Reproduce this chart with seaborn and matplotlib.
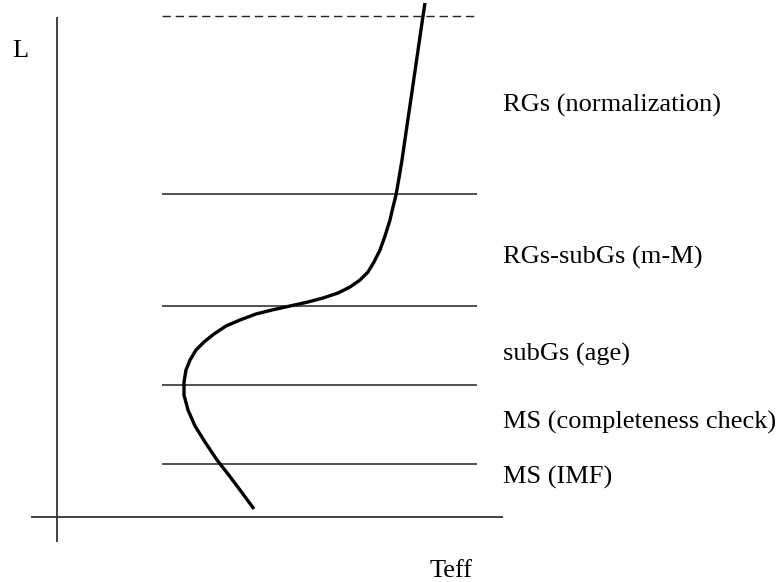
import matplotlib
matplotlib.use("Agg")
import matplotlib.pyplot as plt
import seaborn as sns
import pandas as pd

# Schematic HR diagram: coordinates in the drawing's own units (0..778 x 0..582, y downward)
curve_teff = [254, 240, 228, 217, 205, 195, 188, 184, 184, 186, 190, 196, 204, 214,
              226, 240, 256, 272, 290, 308, 323, 338, 350, 360, 368, 374, 380, 385,
              390, 393, 396, 399, 402, 406.8, 411.8, 416.6, 423, 425]
curve_L = [509, 490, 474, 460, 442, 426, 410, 395, 382, 370, 360, 350, 342, 334,
           326, 320, 314, 310, 306, 302, 298, 293, 287, 280, 272, 262, 250, 236,
           220, 207, 195, 178, 160, 127, 93, 60, 16, 3]

level_L = [194, 306, 385, 464]          # boundaries between regions
level_teff_range = [162, 477]
top_level_L = 16                        # dashed upper limit

region_labels = ["RGs (normalization)", "RGs-subGs (m-M)", "subGs (age)",
                 "MS (completeness check)", "MS (IMF)"]
region_label_L = [112, 264, 361, 429, 484]   # baselines
label_teff = 503

axis_x = 57
axis_y = 517

sns.set_theme(style="white")
plt.rcParams['font.family'] = ['Liberation Serif', 'DejaVu Serif']

fig = plt.figure(figsize=(7.78, 5.82), dpi=100)
ax = fig.add_axes([0, 0, 1, 1])

# axes of the schematic
ax.plot([axis_x, axis_x], [17, 542], color="#333333", lw=1.3, solid_capstyle="butt")
ax.plot([31, 503], [axis_y, axis_y], color="#333333", lw=1.3, solid_capstyle="butt")

# region boundaries
ax.hlines(level_L, level_teff_range[0], level_teff_range[1], color="#222222", lw=1.1)
ax.hlines([top_level_L], level_teff_range[0], level_teff_range[1], color="#222222",
          lw=1.0, linestyles=(0, (6, 3.5)))

# evolutionary track
df = pd.DataFrame({"Teff": curve_teff, "L": curve_L})
sns.lineplot(data=df, x="Teff", y="L", sort=False, estimator=None, errorbar=None,
             ax=ax, color="black", lw=2.4,
             solid_joinstyle="round", solid_capstyle="butt")
ax.set_xlim(0, 778)
ax.set_ylim(582, 0)
ax.axis("off")

fs = 19
for lab, yb in zip(region_labels, region_label_L):
    ax.text(label_teff, yb, lab, fontsize=fs, ha="left", va="baseline", color="black")

ax.text(12, 57, "L", fontsize=fs, ha="left", va="baseline", color="black")
ax.text(473, 577, "Teff", fontsize=fs, ha="right", va="baseline", color="black")

fig.savefig("out.png", dpi=100)
